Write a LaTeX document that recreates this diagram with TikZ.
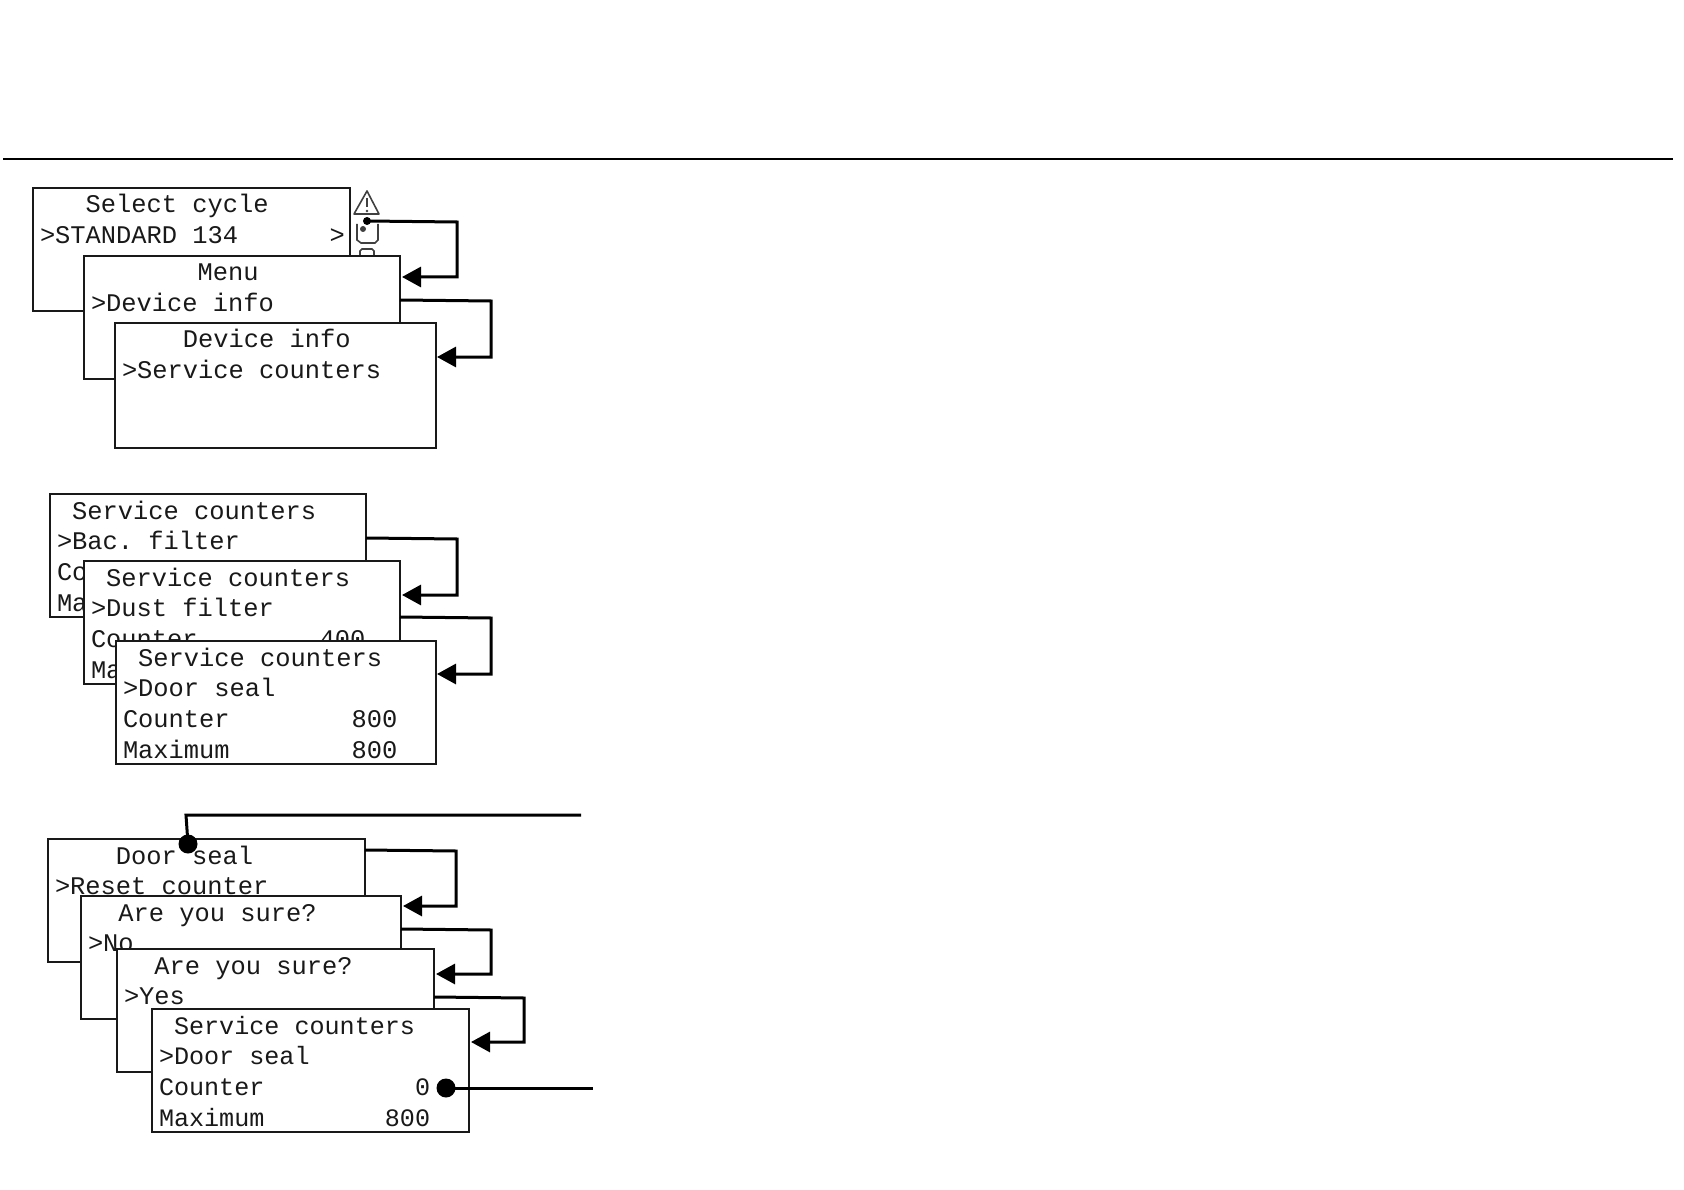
\documentclass[tikz,border=0pt]{standalone}
\usepackage{fontspec}
\setmonofont{Liberation Mono}
\usetikzlibrary{arrows.meta, calc}
\newcommand{\lcdstrut}{\rule[-6pt]{0pt}{31pt}}
\begin{document}
\begin{tikzpicture}[
      x=1pt, y=-1pt,
      screen/.style={rectangle, draw=black!90, line width=1.4pt, fill=white, anchor=north west, inner xsep=7pt, inner ysep=0pt, outer sep=0pt, align=flush left, text=black!90,
        font=\ttfamily\fontsize{25.4}{30.7}\selectfont, execute at begin node=\lcdstrut, execute at end node=\lcdstrut},
      arrow/.style={-{Triangle[length=19pt, width=20pt]}, line width=3pt},
      wire/.style={line width=3pt},
      marker/.style={circle, fill=black, inner sep=0pt, minimum size=19pt},
      icon/.style={draw=black!75, line width=1.6pt}
    ]
    \useasboundingbox (0,0) rectangle (1684,1190);

    \draw[line width=1.8pt] (3,159) -- (1673,159);

    % icons beside the first screen
    \draw[icon, line join=round] (354,214) -- (367,191) -- (379,214) -- cycle;
    \draw[icon, line width=2.4pt] (367,198) -- (367,207);
    \fill[black!75] (367,211) circle (1.4pt);
    \draw[icon] (357,224) -- (357,240) -- (361,243) -- (375,243) -- (378,240) -- (378,224);
    \fill[black!75] (363,229) circle (3pt);
    \draw[icon] (360,256) -- (360,251) -- (362,249) -- (372,249) -- (374,251) -- (374,256);

    % first stack
    \node[screen, text width=303pt] (cycle) at (33,188) {~~~Select cycle\\\mbox{>STANDARD 134~~~~~~>}\\~\\~};
    \node[screen, text width=302pt] (menu) at (84,256) {~~~~~~~Menu\\>Device info\\~\\~};
    \node[screen, text width=307pt] (info) at (115,323) {~~~~Device info\\>Service counters\\~\\~\rule[-8pt]{0pt}{1pt}};

    \coordinate (start) at (367,221);
    \fill (start) circle (4pt);
    \draw[arrow] (start) -- (457,222) |- ([xshift=2pt,yshift=-21pt]menu.north east);
    \draw[arrow] ([yshift=-44pt]menu.north east) -- ++(91,1) |- ([xshift=1pt,yshift=-34pt]info.north east);

    % second stack
    \node[screen, text width=302pt] (bac) at (50,494) {~Service counters\\>Bac. filter\\Counter\\Maximum};
    \node[screen, text width=302pt] (dust) at (84,561) {~Service counters\\>Dust filter\\Counter~~~~~~~~400\\Maximum};
    \node[screen, text width=306pt] (door) at (116,641) {~Service counters\\>Door seal\\Counter~~~~~~~~800\\Maximum~~~~~~~~800};

    \draw[arrow] ([yshift=-44pt]bac.north east) -- ++(91,1) |- ([xshift=2pt,yshift=-34pt]dust.north east);
    \draw[arrow] ([yshift=-56pt]dust.north east) -- ++(91,1) |- ([xshift=1pt,yshift=-33pt]door.north east);

    % third stack
    \node[screen, text width=303pt] (seal) at (48,839) {~~~~Door seal\\>Reset counter\\~\\~};
    \node[screen, text width=306pt] (no) at (81,896) {~~Are you sure?\\>No\\~\\~};
    \node[screen, text width=303pt] (yes) at (117,949) {~~Are you sure?\\>Yes\\~\\~};
    \node[screen, text width=303pt, font=\ttfamily\fontsize{25.1}{30.7}\selectfont] (result) at (152,1009) {~Service counters\\>Door seal\\Counter~~~~~~~~~~0\\Maximum~~~~~~~~800};

    \draw[arrow] ([yshift=-11pt]seal.north east) -- ++(91,1) |- ([xshift=2pt,yshift=-10pt]no.north east);
    \draw[arrow] ([yshift=-33pt]no.north east) -- ++(90,1) |- ([xshift=2pt,yshift=-25pt]yes.north east);
    \draw[arrow] ([yshift=-48pt]yes.north east) -- ++(90,1) |- ([xshift=2pt,yshift=-33pt]result.north east);

    \node[marker] (top) at (188,844) {};
    \node[marker] (zero) at (446,1088) {};
    \coordinate (topend) at (581,815);
    \coordinate (zeroend) at (593,1088);
    \draw[wire] (top.center) -- (186,815) -- (topend);
    \draw[wire] (zero.center) -- (zeroend);
  \end{tikzpicture}
\end{document}
